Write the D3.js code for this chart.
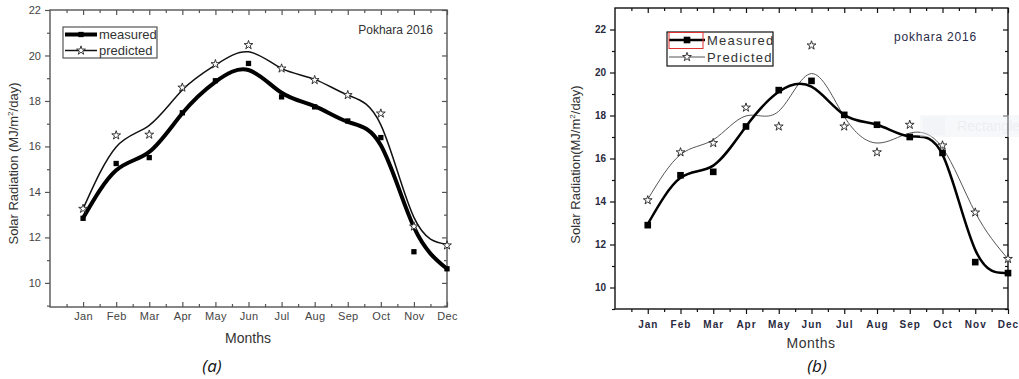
<!DOCTYPE html>
<html lang="en">
<head>
<meta charset="utf-8">
<title>Pokhara 2016 solar radiation</title>
<script src="https://d3js.org/d3.v7.min.js"></script>
<style>
body { margin: 0; background: #fff; }
svg { display: block; }
text { font-family: "Liberation Sans", Arial, sans-serif; }
</style>
</head>
<body>
<div id="chart"></div>
<script>
// months on the x axis (1 = Jan ... 12 = Dec)
var months = ["Jan", "Feb", "Mar", "Apr", "May", "Jun", "Jul", "Aug", "Sep", "Oct", "Nov", "Dec"];
var yMajor = [10, 12, 14, 16, 18, 20, 22];
var yMinor = [9, 11, 13, 15, 17, 19, 21];

// panel (a): points
var measuredA = [12.84, 15.25, 15.51, 17.48, 18.89, 19.65, 18.18, 17.74, 17.12, 16.39, 11.37, 10.62];
var predictedA = [13.26, 16.49, 16.52, 18.59, 19.62, 20.46, 19.43, 18.92, 18.26, 17.45, 12.48, 11.65];
// panel (a): fitted curves read at each month
var measuredFitA = [12.85, 14.95, 15.76, 17.46, 18.84, 19.36, 18.36, 17.77, 17.08, 16.05, 12.45, 10.62];
var predictedFitA = [13.26, 15.98, 16.93, 18.48, 19.58, 20.16, 19.43, 18.95, 18.26, 16.95, 12.88, 11.7];

// panel (b): points
var measuredB = [12.9, 15.22, 15.38, 17.49, 19.18, 19.61, 18.03, 17.57, 17.0, 16.26, 11.18, 10.67];
var predictedB = [14.06, 16.29, 16.72, 18.37, 17.49, 21.26, 17.49, 16.29, 17.57, 16.61, 13.49, 11.33];
// panel (b): fitted curves read at each month
var measuredFitB = [12.95, 15.1, 15.67, 17.49, 19.1, 19.34, 18.03, 17.57, 17.03, 16.18, 11.75, 10.68];
var predictedFitB = [14.1, 16.18, 16.87, 17.98, 18.2, 19.95, 17.95, 16.72, 17.18, 16.49, 13.49, 11.33];

var w = 1019, h = 379;

var svg = d3.select("#chart")
  .append("svg")
  .attr("width", w)
  .attr("height", h);

function drawPanel(o) {
  var x = d3.scaleLinear().domain([0, 12]).range([o.left, o.right]);
  var y = d3.scaleLinear().domain(o.yDomain).range([o.bottom, o.top]);
  var g = svg.append("g");
  var monthIdx = d3.range(1, 13);
  var halfMonths = d3.range(0.5, 12, 1);

  function clean(sel) {
    sel.select(".domain").remove();
    sel.selectAll("line").attr("stroke", o.axisColor).attr("stroke-width", 1.2);
    return sel;
  }

  // bottom axis
  var bottomMajor = g.append("g")
    .attr("transform", "translate(0," + o.bottom + ")")
    .call(d3.axisBottom(x).tickValues(monthIdx)
      .tickFormat(function (i) { return months[i - 1]; })
      .tickSize(o.bottomOut ? 5 : -5).tickPadding(o.xPad));
  clean(bottomMajor);
  bottomMajor.selectAll("text")
    .attr("fill", o.tickColor)
    .style("font-size", o.tickFont + "px")
    .style("font-weight", o.tickWeight)
    .style("letter-spacing", o.tickSpacing + "px");
  clean(g.append("g")
    .attr("transform", "translate(0," + o.bottom + ")")
    .call(d3.axisBottom(x).tickValues(halfMonths).tickFormat("")
      .tickSize(o.bottomOut ? 3 : -3)));

  // top axis (inward)
  clean(g.append("g")
    .attr("transform", "translate(0," + o.top + ")")
    .call(d3.axisTop(x).tickValues(monthIdx).tickFormat("").tickSize(-5)));
  clean(g.append("g")
    .attr("transform", "translate(0," + o.top + ")")
    .call(d3.axisTop(x).tickValues(halfMonths).tickFormat("").tickSize(-3)));

  // left axis (outward)
  var leftMajor = g.append("g")
    .attr("transform", "translate(" + o.left + ",0)")
    .call(d3.axisLeft(y).tickValues(yMajor).tickSize(5).tickPadding(o.yPad));
  clean(leftMajor);
  leftMajor.selectAll("text")
    .attr("fill", o.tickColor)
    .style("font-size", o.tickFont + "px")
    .style("font-weight", o.tickWeight);
  clean(g.append("g")
    .attr("transform", "translate(" + o.left + ",0)")
    .call(d3.axisLeft(y).tickValues(yMinor).tickFormat("").tickSize(3)));

  // right axis (inward)
  clean(g.append("g")
    .attr("transform", "translate(" + o.right + ",0)")
    .call(d3.axisRight(y).tickValues(yMajor).tickFormat("").tickSize(-5)));
  clean(g.append("g")
    .attr("transform", "translate(" + o.right + ",0)")
    .call(d3.axisRight(y).tickValues(yMinor).tickFormat("").tickSize(-3)));

  // frame
  g.append("rect")
    .attr("x", o.left).attr("y", o.top)
    .attr("width", o.right - o.left).attr("height", o.bottom - o.top)
    .attr("fill", "none")
    .attr("stroke", o.axisColor)
    .attr("stroke-width", 1.4);

  // fitted curves
  var line = d3.line()
    .x(function (d, i) { return x(i + 1); })
    .y(function (d) { return y(d); })
    .curve(d3.curveNatural);

  g.append("path").datum(o.predFit)
    .attr("d", line)
    .attr("fill", "none")
    .attr("stroke", o.predColor)
    .attr("stroke-width", o.predWidth);
  g.append("path").datum(o.measFit)
    .attr("d", line)
    .attr("fill", "none")
    .attr("stroke", "#000")
    .attr("stroke-width", o.measWidth);

  // markers
  var square = d3.symbol().type(d3.symbolSquare).size(o.squareSize);
  var star = d3.symbol().type(d3.symbolStar).size(o.starSize);

  g.selectAll(".star")
    .data(o.pred)
    .enter().append("path")
    .attr("class", "star")
    .attr("d", star)
    .attr("transform", function (d, i) { return "translate(" + x(i + 1) + "," + y(d) + ")"; })
    .attr("fill", "#fff")
    .attr("stroke", "#222")
    .attr("stroke-width", 0.9);

  g.selectAll(".sq")
    .data(o.meas)
    .enter().append("path")
    .attr("class", "sq")
    .attr("d", square)
    .attr("transform", function (d, i) { return "translate(" + x(i + 1) + "," + y(d) + ")"; })
    .attr("fill", "#000");

  // legend
  var lg = g.append("g");
  lg.append("rect")
    .attr("x", o.legend.x).attr("y", o.legend.y)
    .attr("width", o.legend.w).attr("height", o.legend.h)
    .attr("fill", "#fff")
    .attr("stroke", o.axisColor)
    .attr("stroke-width", 1.2);
  var rows = [
    { name: o.names[0], width: o.measWidth, color: "#000", sym: square },
    { name: o.names[1], width: o.predWidth, color: o.predColor, sym: star }
  ];
  rows.forEach(function (r, i) {
    var ry = o.legend.y + o.legend.row0 + i * o.legend.rowStep;
    var x0 = o.legend.x + 2, x1 = o.legend.x + 2 + o.legend.lineLen;
    lg.append("line")
      .attr("x1", x0).attr("x2", x1)
      .attr("y1", ry).attr("y2", ry)
      .attr("stroke", r.color)
      .attr("stroke-width", r.width);
    lg.append("path")
      .attr("d", r.sym)
      .attr("transform", "translate(" + ((x0 + x1) / 2) + "," + ry + ")")
      .attr("fill", i === 0 ? "#000" : "#fff")
      .attr("stroke", i === 0 ? "none" : "#222")
      .attr("stroke-width", 0.9);
    lg.append("text")
      .attr("x", x1 + 2)
      .attr("y", ry)
      .attr("dy", "0.35em")
      .attr("fill", o.textColor)
      .style("font-size", o.legend.font + "px")
      .style("letter-spacing", o.legend.spacing + "px")
      .text(r.name);
  });

  // place label
  g.append("text")
    .attr("x", o.place.x).attr("y", o.place.y)
    .attr("text-anchor", "end")
    .attr("dy", "0.35em")
    .attr("fill", o.place.color)
    .style("font-size", "12px")
    .style("letter-spacing", o.place.spacing + "px")
    .text(o.place.text);

  // axis titles
  var yl = g.append("text")
    .attr("transform", "translate(" + o.yTitleX + "," + ((o.top + o.bottom) / 2 + o.yTitleShift) + ") rotate(-90)")
    .attr("text-anchor", "middle")
    .attr("fill", o.textColor)
    .style("font-size", "13px");
  yl.append("tspan").text(o.yTitle[0]);
  yl.append("tspan").attr("dy", "-5").style("font-size", "8px").text("2");
  yl.append("tspan").attr("dy", "5").text("/day)");

  g.append("text")
    .attr("x", o.xTitle.x).attr("y", o.xTitle.y)
    .attr("text-anchor", "middle")
    .attr("dy", "0.35em")
    .attr("fill", o.textColor)
    .style("font-size", "14px")
    .style("letter-spacing", o.xTitle.spacing + "px")
    .text("Months");

  // caption
  g.append("text")
    .attr("x", o.caption.x).attr("y", o.caption.y)
    .attr("text-anchor", "middle")
    .attr("dy", "0.35em")
    .attr("fill", "#111")
    .style("font-family", "'Open Sans', sans-serif")
    .style("font-style", "italic")
    .style("font-size", "17px")
    .text(o.caption.text);

  return g;
}

drawPanel({
  left: 50, right: 447, top: 10, bottom: 307,
  yDomain: [8.94, 22],
  meas: measuredA, pred: predictedA, measFit: measuredFitA, predFit: predictedFitA,
  axisColor: "#555", tickColor: "#444", textColor: "#333",
  tickFont: 11, tickWeight: "normal", tickSpacing: 0.3,
  xPad: 5, yPad: 4, bottomOut: false,
  measWidth: 4, predWidth: 1.5, predColor: "#111",
  squareSize: 28, starSize: 24,
  names: ["measured", "predicted"],
  legend: { x: 63, y: 27, w: 94, h: 31, row0: 7.5, rowStep: 16, lineLen: 32, spacing: 0, font: 13 },
  place: { x: 433, y: 30, text: "Pokhara 2016", color: "#333", spacing: 0 },
  yTitle: ["Solar Radiation (MJ/m"], yTitleX: 18, yTitleShift: 5,
  xTitle: { x: 248, y: 338, spacing: 0 },
  caption: { x: 212, y: 366, text: "(a)" }
});

var gb = drawPanel({
  left: 615, right: 1008, top: 8, bottom: 309,
  yDomain: [9, 23],
  meas: measuredB, pred: predictedB, measFit: measuredFitB, predFit: predictedFitB,
  axisColor: "#111", tickColor: "#2a2a40", textColor: "#333",
  tickFont: 10, tickWeight: "bold", tickSpacing: 1,
  xPad: 7, yPad: 4, bottomOut: true,
  measWidth: 2.5, predWidth: 1, predColor: "#555",
  squareSize: 44, starSize: 24,
  names: ["Measured", "Predicted"],
  legend: { x: 667, y: 32, w: 106, h: 34, row0: 8, rowStep: 17, lineLen: 36, spacing: 1.2, font: 13 },
  place: { x: 977, y: 37, text: "pokhara 2016", color: "#2a2a48", spacing: 0.8 },
  yTitle: ["Solar Radiation(MJ/m"], yTitleX: 580, yTitleShift: 6,
  xTitle: { x: 811, y: 343, spacing: 0.5 },
  caption: { x: 817, y: 366, text: "(b)" }
});

// red selection box round the first legend sample in (b)
gb.append("rect")
  .attr("x", 669).attr("y", 32.5)
  .attr("width", 34).attr("height", 16)
  .attr("fill", "none")
  .attr("stroke", "#e03030")
  .attr("stroke-width", 1);

// faint tooltip left over in the screenshot
var tip = svg.append("g").attr("opacity", 0.45);
tip.append("rect")
  .attr("x", 920).attr("y", 115).attr("width", 99).attr("height", 22)
  .attr("fill", "#eef1f6");
tip.append("rect")
  .attr("x", 923).attr("y", 117).attr("width", 22).attr("height", 18)
  .attr("fill", "#e3e7ee");
tip.append("text")
  .attr("x", 957).attr("y", 131)
  .attr("fill", "#d6dbe3")
  .style("font-size", "14px")
  .text("Rectangle");
</script>
</body>
</html>
